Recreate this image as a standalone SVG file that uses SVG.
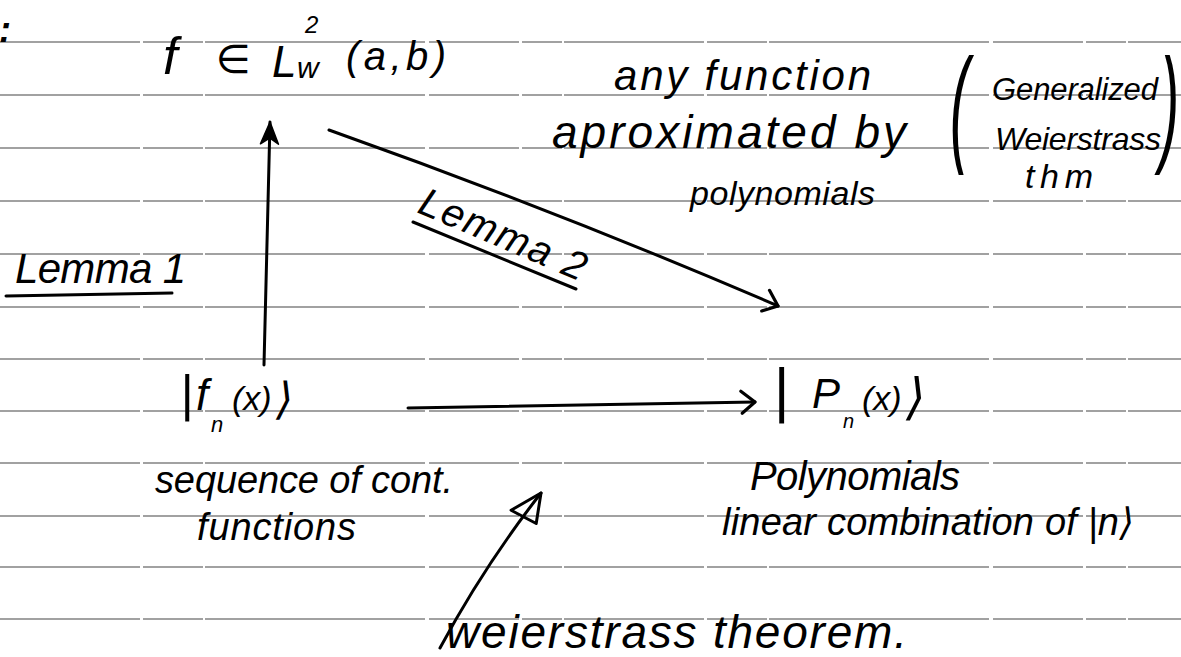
<svg xmlns="http://www.w3.org/2000/svg" width="1181" height="657" viewBox="0 0 1181 657">
<style>
.rule{stroke:#444;stroke-width:1.2;stroke-dasharray:140 3 60 2 220 4 90 3 40 2}
.t{font-family:"Liberation Sans","DejaVu Sans",sans-serif;font-style:italic;fill:#000}
.c{fill:none;stroke:#000;stroke-width:3;stroke-linecap:round;stroke-linejoin:round}
</style>
<defs>
<marker id="chev" markerUnits="userSpaceOnUse" markerWidth="30" markerHeight="30" refX="18" refY="12" orient="auto" overflow="visible">
<path d="M4,1 L18,12 L5,23" fill="none" stroke="#000" stroke-width="3.2" stroke-linecap="round" stroke-linejoin="round"/>
</marker>
<marker id="fhead" markerUnits="userSpaceOnUse" markerWidth="30" markerHeight="30" refX="22" refY="9" orient="auto" overflow="visible">
<path d="M0,0 L22,9 L0,18 L6,9 Z" fill="#000" stroke="#000" stroke-width="1.5" stroke-linejoin="round"/>
</marker>
<marker id="tri" markerUnits="userSpaceOnUse" markerWidth="40" markerHeight="40" refX="32" refY="15" orient="auto" overflow="visible">
<path d="M32,15 L0,2 L5,30 Z" fill="none" stroke="#000" stroke-width="3" stroke-linejoin="round"/>
</marker>
</defs>
<rect width="1181" height="657" fill="#fff"/>
<g id="ruled-lines">
<line class="rule" x1="0" y1="42" x2="1181" y2="42"/>
<line class="rule" x1="0" y1="95" x2="1181" y2="95"/>
<line class="rule" x1="0" y1="148" x2="1181" y2="148"/>
<line class="rule" x1="0" y1="201" x2="1181" y2="201"/>
<line class="rule" x1="0" y1="254" x2="1181" y2="254"/>
<line class="rule" x1="0" y1="307" x2="1181" y2="307"/>
<line class="rule" x1="0" y1="359" x2="1181" y2="359"/>
<line class="rule" x1="0" y1="411" x2="1181" y2="411"/>
<line class="rule" x1="0" y1="463" x2="1181" y2="463"/>
<line class="rule" x1="0" y1="516" x2="1181" y2="516"/>
<line class="rule" x1="0" y1="567" x2="1181" y2="567"/>
<line class="rule" x1="0" y1="619" x2="1181" y2="619"/>
</g>
<text class="t" x="-1" y="42" font-size="36" font-weight="bold">:</text>
<g id="connectors">
<path class="c" d="M264,365 L270,122" marker-end="url(#fhead)"/>
<path class="c" d="M329,130 Q560,212 778,306" marker-end="url(#chev)"/>
<path class="c" d="M408,408 L755,402" marker-end="url(#chev)"/>
<path class="c" d="M440,648 Q484,566 541,493" marker-end="url(#tri)"/>
</g>
<g id="node-f">
<text class="t" x="163" y="74" font-size="52">f</text>
<text class="t" x="216" y="73" font-size="40">∈</text>
<text class="t" x="272" y="77" font-size="44">L</text>
<text class="t" x="297" y="78" font-size="30">w</text>
<text class="t" x="305" y="33" font-size="24">2</text>
<text class="t" x="346" y="70" font-size="40" textLength="100">(a,b)</text>
</g>
<g id="label-any-function">
<text class="t" x="614" y="90" font-size="42" textLength="257">any function</text>
<text class="t" x="552" y="148" font-size="46" textLength="354">aproximated by</text>
<text class="t" x="690" y="205" font-size="34" textLength="185">polynomials</text>
</g>
<g id="label-generalized">
<text class="t" x="0" y="148" font-size="128" transform="translate(950,0) scale(0.45,1)">(</text>
<text class="t" x="992" y="100" font-size="31" textLength="166">Generalized</text>
<text class="t" x="995" y="150" font-size="32" textLength="166">Weierstrass</text>
<text class="t" x="1025" y="188" font-size="34" textLength="68">thm</text>
<text class="t" x="0" y="148" font-size="128" transform="translate(1160,0) scale(0.45,1)">)</text>
</g>
<g id="label-lemma2">
<text class="t" x="416" y="212" font-size="40" textLength="178" transform="rotate(23 416 212)">Lemma 2</text>
<line class="c" x1="413" y1="222" x2="576" y2="289"/>
</g>
<g id="label-lemma1">
<text class="t" x="15" y="283" font-size="42" textLength="171">Lemma 1</text>
<line class="c" x1="6" y1="296" x2="172" y2="293"/>
</g>
<g id="node-fn">
<text class="t" x="180" y="410" font-size="50">|</text>
<text class="t" x="196" y="410" font-size="44">f</text>
<text class="t" x="211" y="432" font-size="22">n</text>
<text class="t" x="232" y="410" font-size="34">(x)</text>
<text class="t" x="276" y="414" font-size="44">⟩</text>
<text class="t" x="155" y="493" font-size="38" textLength="298">sequence of cont.</text>
<text class="t" x="197" y="540" font-size="38" textLength="159">functions</text>
</g>
<g id="node-pn">
<text class="t" x="773" y="410" font-size="60">|</text>
<text class="t" x="812" y="408" font-size="42">P</text>
<text class="t" x="843" y="428" font-size="20">n</text>
<text class="t" x="862" y="410" font-size="34">(x)</text>
<text class="t" x="906" y="414" font-size="50">⟩</text>
<text class="t" x="750" y="490" font-size="40" textLength="210">Polynomials</text>
<text class="t" x="722" y="535" font-size="38" textLength="412">linear combination of |n⟩</text>
</g>
<g id="label-weierstrass">
<text class="t" x="446" y="648" font-size="46" textLength="461">weierstrass theorem.</text>
</g>
</svg>
